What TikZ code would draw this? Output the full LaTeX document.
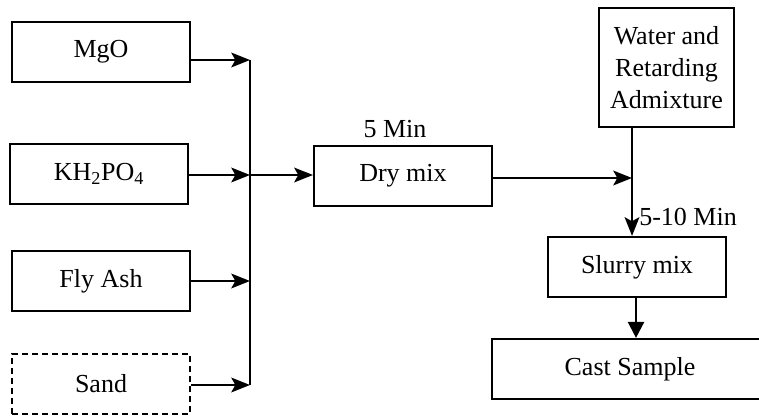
\documentclass[tikz,border=0pt]{standalone}
\usepackage{fontspec}
\setmainfont{Liberation Serif}
\usetikzlibrary{arrows.meta}

\tikzset{
  box/.style={draw, line width=1.6pt, minimum width=133.5pt, minimum height=45pt,
    inner sep=0pt, align=center, font=\fontsize{19.5}{24}\selectfont},
  dashbox/.style={box, dash pattern=on 4.5pt off 3pt},
  arr/.style={line width=1.8pt, -{Stealth[length=14pt,width=11pt,inset=3pt]}},
  tarr/.style={line width=1.8pt, -{Triangle[length=12pt,width=12pt]}},
  lbl/.style={font=\fontsize{19.5}{24}\selectfont, inner sep=0pt}
}

\begin{document}
\begin{tikzpicture}[x=0.75pt,y=-0.75pt]
        \useasboundingbox (0,0) rectangle (759,416);

        % Raw materials
        \node[box] (mgo) at (101,52) {MgO};
        \node[box] (kh) at (99,174) {KH\textsubscript{2}PO\textsubscript{4}};
        \node[box] (ash) at (101,281) {Fly Ash};
        \node[dashbox] (sand) at (101,384) {Sand};

        % Collecting line
        \coordinate (b1) at (250,60);
        \coordinate (b2) at (250,175);
        \coordinate (b3) at (250,281);
        \coordinate (b4) at (250,385);
        \draw[line width=1.8pt] (b1) -- (b4);
        \draw[arr] (mgo.east |- b1) -- (b1);
        \draw[arr] (kh.east |- b2) -- (b2);
        \draw[arr] (ash.east |- b3) -- (b3);
        \draw[arr] (sand.east |- b4) -- (b4);

        % Dry mix
        \node[box] (dry) at (403,176) {Dry mix};
        \node[lbl] (t1) at (395,129) {5 Min};
        \draw[arr] (b2) -- (dry.west |- b2);

        % Water and slurry
        \node[box, minimum width=101.25pt, minimum height=89.25pt] (water) at (666.5,67.5)
          {Water and\\Retarding\\Admixture};
        \coordinate (j) at (632,178);
        \draw[arr] (dry.east |- j) -- (j);
        \node[box] (slurry) at (637,267) {Slurry mix};
        \draw[arr] (water.south -| j) -- (slurry.north -| j);
        \node[lbl, anchor=west] (t2) at (639,217) {5-10 Min};

        % Cast sample
        \node[box, minimum width=207pt] (cast) at (630,369) {Cast Sample};
        \draw[tarr] (slurry.south -| 636,0) -- (cast.north -| 636,0);
\end{tikzpicture}
\end{document}
